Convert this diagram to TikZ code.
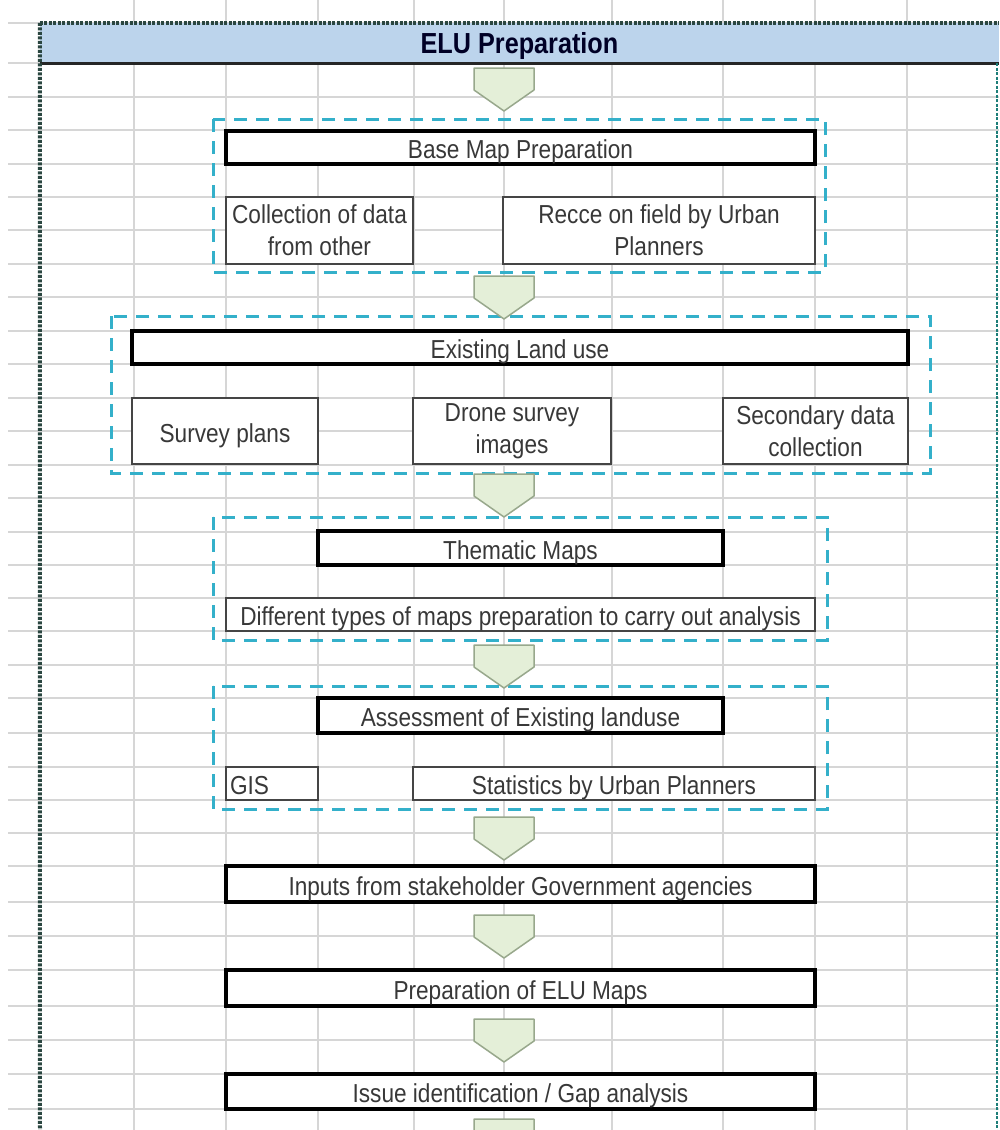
\documentclass[tikz,border=0pt]{standalone}
\usepackage{fontspec}
\setmainfont{Liberation Sans}[FakeStretch=0.87]
\usetikzlibrary{calc}
\definecolor{gridgray}{HTML}{D6D6D6}
\definecolor{hdrblue}{HTML}{BCD4EC}
\definecolor{grpcyan}{HTML}{34B0CA}
\definecolor{chevfill}{HTML}{E4EFD8}
\definecolor{chevedge}{HTML}{98A88C}
\definecolor{txtgray}{HTML}{383838}
\definecolor{subedge}{HTML}{454545}
\definecolor{bordcol}{HTML}{2A4640}
\tikzset{
  gridline/.style={draw=gridgray, line width=1.2pt},
  mainbox/.style={draw=black, line width=3.5pt, fill=white, inner sep=0pt, text=txtgray,
    font=\fontsize{26}{32}\selectfont, align=center},
  subbox/.style={draw=subedge, line width=1.8pt, fill=white, inner sep=0pt, text=txtgray,
    font=\fontsize{26}{32}\selectfont, align=center},
  oneline/.style={text height=22pt, text depth=0pt},
  grp/.style={draw=grpcyan, line width=3pt, dash pattern=on 13pt off 9pt},
  chev/.style={fill=chevfill, draw=chevedge, line width=1.5pt, line join=round},
  outerborder/.style={draw=bordcol, line width=4pt, dash pattern=on 3pt off 1.5pt},
  chevron/.pic={\path[chev] (-30,0) -- (30,0) -- (30,22) -- (0,43) -- (-30,22) -- cycle;}
}
\begin{document}
\begin{tikzpicture}[x=1pt,y=-1pt]
\useasboundingbox (0,0) rectangle (999,1130);
\fill[white] (0,0) rectangle (999,1130);
% spreadsheet grid
\foreach \yy in {23,63,97,130,164,197,230,264,297,331,364,398,431,465,498,532,565,598,631,665,698,733,767,800,833,866,902,936,970,1006,1040,1074,1109}
  \draw[gridline] (8,\yy) -- (999,\yy);
\foreach \xx in {134,226,318,414,504,612,723,815,907}
  \draw[gridline] (\xx,0) -- (\xx,1130);
% header
\node[fill=hdrblue, minimum width=959pt, minimum height=40pt, inner sep=0pt, text height=21pt, text depth=0pt,
      font=\bfseries\fontsize{29}{32}\selectfont, text=black!85!blue] (hdr) at (519.5,43) {ELU Preparation};
\draw[black!85, line width=2.8pt] (hdr.south west) -- (hdr.south east);
\draw[outerborder] (hdr.north west) -- (hdr.north east);
\draw[outerborder] (hdr.north west) -- (40,1130);
\draw[outerborder, line width=2.2pt, draw=bordcol!70!cyan] (997,63) -- (997,1130);
% dashed groups
\draw[grp] (213,119) rectangle (825,272);
\draw[grp] (111,316) rectangle (930,473);
\draw[grp] (213,517) rectangle (827,640);
\draw[grp] (213,686) rectangle (827,809);
% group 1
\node[mainbox, oneline, minimum width=589pt, minimum height=33pt] (base) at (520.5,147.5) {Base Map Preparation};
\node[subbox, minimum width=187pt, minimum height=67pt] (coll) at (319.5,230.5) {Collection of data\\from other};
\node[subbox, minimum width=312pt, minimum height=67pt] (recce) at (659,230.5) {Recce on field by Urban\\Planners};
% group 2
\node[mainbox, oneline, minimum width=776pt, minimum height=33pt] (elu) at (520,347.5) {Existing Land use};
\node[subbox, oneline, minimum width=186pt, minimum height=66pt] (survey) at (225,431) {Survey plans};
\node[subbox, minimum width=198pt, minimum height=66pt] (drone) at (512,431) {Drone survey\\images};
\node[subbox, minimum width=185pt, minimum height=66pt] (second) at (815.5,431) {Secondary data\\collection};
% group 3
\node[mainbox, oneline, minimum width=405pt, minimum height=34pt] (them) at (520.5,548) {Thematic Maps};
\node[subbox, oneline, minimum width=589pt, minimum height=33pt] (diff) at (520.5,614.5) {Different types of maps preparation to carry out analysis};
% group 4
\node[mainbox, oneline, minimum width=405pt, minimum height=35pt] (assess) at (520.5,715.5) {Assessment of Existing landuse};
\node[subbox, oneline, minimum width=92pt, minimum height=33pt, text width=84pt, align=left] (gis) at (272,783.5) {GIS};
\node[subbox, oneline, minimum width=402pt, minimum height=33pt] (stats) at (614,783.5) {Statistics by Urban Planners};
% single steps
\node[mainbox, oneline, minimum width=589pt, minimum height=36pt] (inputs) at (520.5,884) {Inputs from stakeholder Government agencies};
\node[mainbox, oneline, minimum width=589pt, minimum height=36pt] (prep) at (520.5,988) {Preparation of ELU Maps};
\node[mainbox, oneline, minimum width=589pt, minimum height=35pt] (issue) at (520.5,1091.5) {Issue identification / Gap analysis};
% chevrons
\pic (c1) at (504,68) {chevron};
\pic (c2) at (504,276) {chevron};
\pic (c3) at (504,474) {chevron};
\pic (c4) at (504,645) {chevron};
\pic (c5) at (504,817) {chevron};
\pic (c6) at (504,915) {chevron};
\pic (c7) at (504,1019) {chevron};
\pic (c8) at (504,1119) {chevron};
\end{tikzpicture}
\end{document}
